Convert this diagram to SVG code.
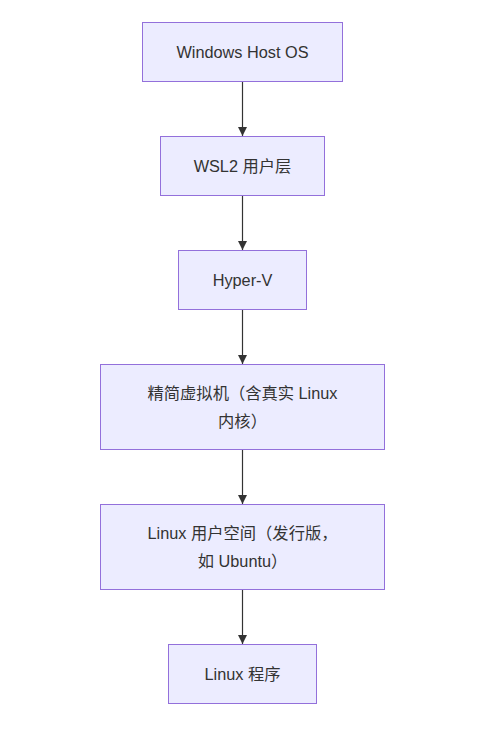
<svg xmlns="http://www.w3.org/2000/svg" width="494" height="734" viewBox="0 0 494 734">
<style>
.node rect{fill:#ECECFF;stroke:#9370DB;stroke-width:1}
.node text{font-family:"Liberation Sans","Noto Sans CJK SC",sans-serif;font-size:16.3px;fill:#333333;text-anchor:middle;dominant-baseline:central}
.edge{stroke:#333333;stroke-width:1.2;fill:none}
</style>
<defs>
<marker id="arrow" markerUnits="userSpaceOnUse" markerWidth="9" markerHeight="9" viewBox="0 0 10 10" refX="10" refY="5" orient="auto">
<path d="M0,0 L10,5 L0,10 z" fill="#333333"/>
</marker>
</defs>
<rect width="494" height="734" fill="#ffffff"/>
<g id="edges">
<line class="edge" x1="242.5" y1="81.5" x2="242.5" y2="136" marker-end="url(#arrow)"/>
<line class="edge" x1="242.5" y1="195.5" x2="242.5" y2="250" marker-end="url(#arrow)"/>
<line class="edge" x1="242.5" y1="309.5" x2="242.5" y2="364" marker-end="url(#arrow)"/>
<line class="edge" x1="242.5" y1="449.5" x2="242.5" y2="504" marker-end="url(#arrow)"/>
<line class="edge" x1="242.5" y1="589.5" x2="242.5" y2="644" marker-end="url(#arrow)"/>
</g>
<g id="node-windows" class="node">
<rect x="142.5" y="22.5" width="200" height="59"/>
<text x="242.5" y="52">Windows Host OS</text>
</g>
<g id="node-wsl2" class="node">
<rect x="160.5" y="136.5" width="164" height="59"/>
<text x="242.5" y="166">WSL2 用户层</text>
</g>
<g id="node-hyperv" class="node">
<rect x="178.5" y="250.5" width="128" height="59"/>
<text x="242.5" y="280">Hyper-V</text>
</g>
<g id="node-vm" class="node">
<rect x="100.5" y="364.5" width="284" height="85"/>
<text x="242.5" y="393">精简虚拟机（含真实 Linux</text>
<text x="242.5" y="421">内核）</text>
</g>
<g id="node-userspace" class="node">
<rect x="100.5" y="504.5" width="284" height="85"/>
<text x="242.5" y="533">Linux 用户空间（发行版，</text>
<text x="242.5" y="561">如 Ubuntu）</text>
</g>
<g id="node-programs" class="node">
<rect x="168.5" y="644.5" width="148" height="59"/>
<text x="242.5" y="674">Linux 程序</text>
</g>
</svg>
